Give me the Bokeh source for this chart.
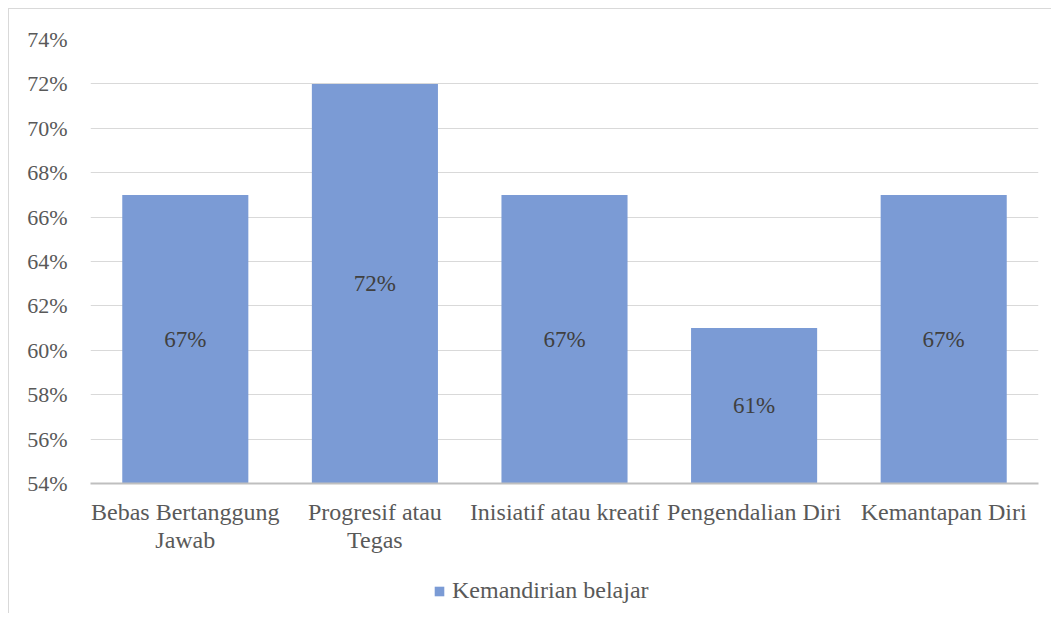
from bokeh.plotting import figure
from bokeh.layouts import column
from bokeh.models import ColumnDataSource, NumeralTickFormatter, FixedTicker, Legend, LegendItem, Range1d
from bokeh.core.properties import value
from bokeh.embed import file_html
from bokeh.resources import INLINE
import numpy as np

categories = ["Bebas Bertanggung\nJawab", "Progresif atau\nTegas", "Inisiatif atau kreatif",
              "Pengendalian Diri", "Kemantapan Diri"]
values = [0.67, 0.72, 0.67, 0.61, 0.67]
labels = ["67%", "72%", "67%", "61%", "67%"]
series_name = "Kemandirian belajar"

y_min, y_max = 0.54, 0.74
ticks = [round(t, 2) for t in np.arange(y_min, y_max + 0.001, 0.02)]

FONT = "Liberation Serif"
BAR = "#7b9bd5"

src = ColumnDataSource(dict(
    x=categories, top=values, label=labels,
    mid=[(y_min + v) / 2 for v in values],
))

p = figure(x_range=categories, y_range=Range1d(y_min, y_max), width=1042, height=554,
           output_backend="svg", toolbar_location=None,
           min_border_left=81, min_border_right=13, min_border_top=30, min_border_bottom=80)

r = p.vbar(x="x", top="top", bottom=y_min, width=0.665, source=src, color=BAR, line_color=None)
p.text(x="x", y="mid", text="label", source=src, text_align="center", text_baseline="middle",
       text_font=value(FONT), text_font_size="23px", text_color="#404040")

p.outline_line_color = None
p.xgrid.grid_line_color = None
p.ygrid.grid_line_color = "#d9d9d9"
p.ygrid.ticker = FixedTicker(ticks=ticks)

p.yaxis.ticker = FixedTicker(ticks=ticks)
p.yaxis.formatter = NumeralTickFormatter(format="0%")
p.yaxis.axis_line_color = None
p.yaxis.major_tick_line_color = None
p.yaxis.major_tick_out = 0
p.yaxis.minor_tick_line_color = None
p.yaxis.minor_tick_out = 0
p.yaxis.major_label_text_font = FONT
p.yaxis.major_label_text_font_size = "22px"
p.yaxis.major_label_text_color = "#595959"
p.yaxis.major_label_standoff = 23

p.xaxis.axis_line_color = "#bfbfbf"
p.xaxis.axis_line_width = 2
p.xaxis.major_tick_line_color = None
p.xaxis.major_tick_out = 0
p.xaxis.minor_tick_line_color = None
p.xaxis.minor_tick_out = 0
p.xaxis.major_label_text_font = FONT
p.xaxis.major_label_text_font_size = "24px"
p.xaxis.major_label_text_color = "#595959"
p.xaxis.major_label_text_line_height = 1.1
p.xaxis.major_label_standoff = 15

# legend strip below the chart; the proxy bars lie outside this strip's visible range
lg = figure(width=1042, height=50, x_range=Range1d(10, 11), y_range=Range1d(10, 11),
            output_backend="svg", toolbar_location=None, x_axis_type=None, y_axis_type=None,
            min_border_left=0, min_border_right=0, min_border_top=0, min_border_bottom=0)
lg.outline_line_color = None
lg.xgrid.grid_line_color = None
lg.ygrid.grid_line_color = None
proxy = lg.vbar(x="top", top="top", bottom=y_min, width=0.1, source=src, color=BAR, line_color=None)
legend = Legend(items=[LegendItem(label=series_name, renderers=[proxy])],
                location=(343, 9), orientation="horizontal",
                label_text_font=FONT, label_text_font_size="24px", label_text_color="#595959",
                glyph_width=12, glyph_height=12, label_standoff=7,
                padding=0, margin=0,
                border_line_color=None, background_fill_alpha=0)
lg.add_layout(legend, "center")

layout = column(p, lg, spacing=0)
layout.styles = {"border-left": "1px solid #d9d9d9", "border-top": "1px solid #d9d9d9",
                 "margin-left": "8px", "margin-top": "8px"}

open("out.html", "w").write(file_html(layout, INLINE))
